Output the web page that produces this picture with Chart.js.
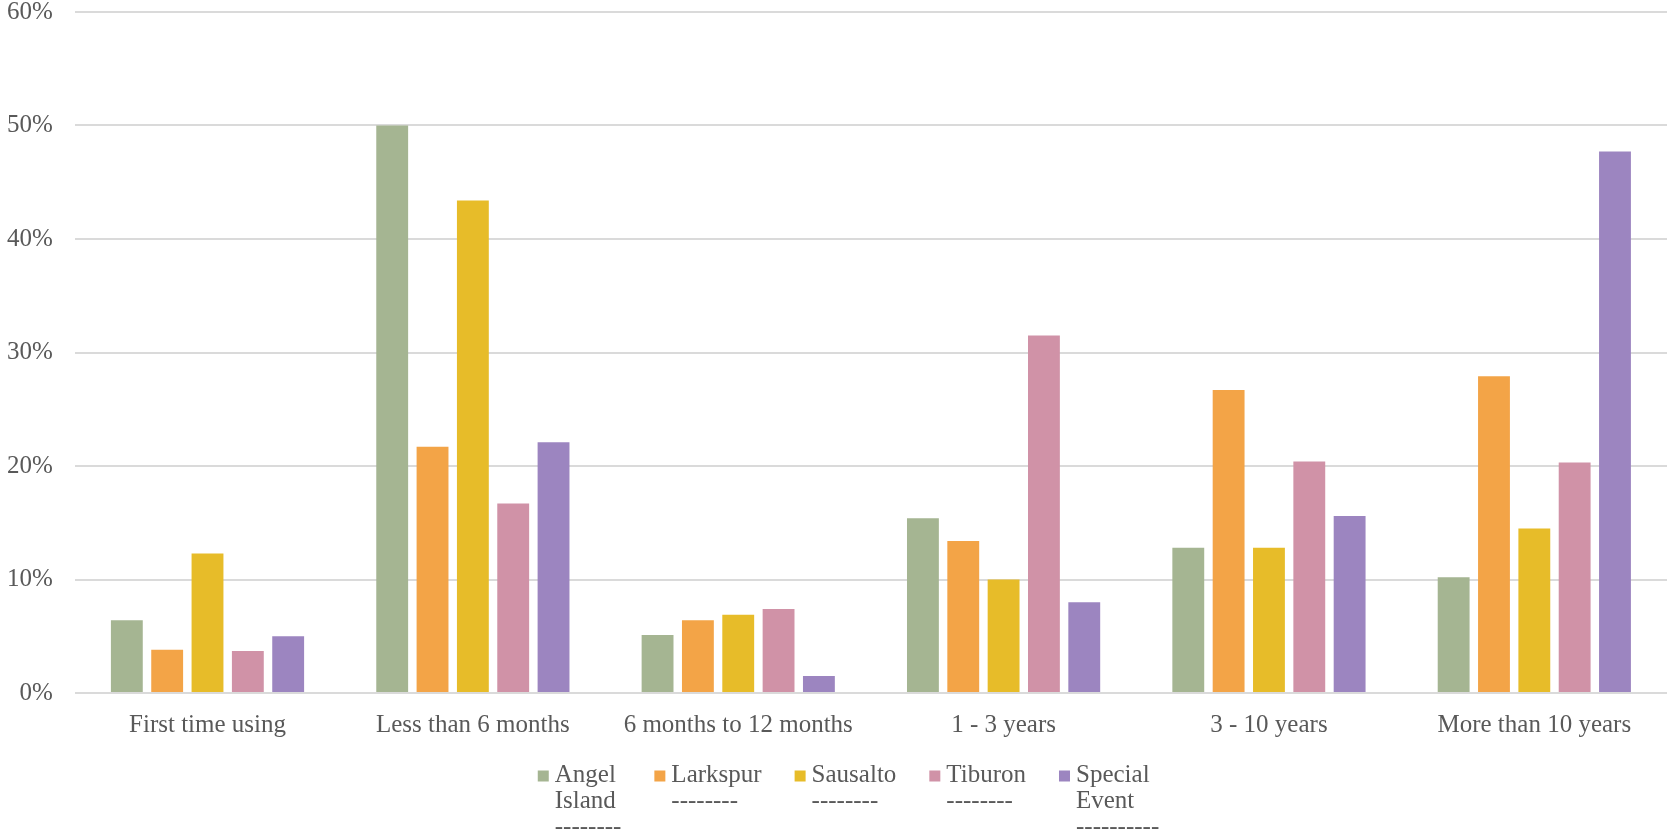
<!DOCTYPE html>
<html>
<head>
<meta charset="utf-8">
<title>Ridership tenure by route</title>
<script src="https://cdn.jsdelivr.net/npm/chart.js@4/dist/chart.umd.min.js"></script>
<style>
    html, body { margin: 0; padding: 0; background: #ffffff; }
    #wrap { width: 1667px; height: 833px; position: relative; }
</style>
</head>
<body>
<div id="wrap"><canvas id="tenure-chart"></canvas></div>
<script>
    const categories = ["First time using", "Less than 6 months", "6 months to 12 months", "1 - 3 years", "3 - 10 years", "More than 10 years"];

    // percent of riders per route
    const angelIsland = [6.4, 50.0, 5.1, 15.4, 12.8, 10.2];
    const larkspur = [3.8, 21.7, 6.4, 13.4, 26.7, 27.9];
    const sausalto = [12.3, 43.4, 6.9, 10.0, 12.8, 14.5];
    const tiburon = [3.7, 16.7, 7.4, 31.5, 20.4, 20.3];
    const specialEvent = [5.0, 22.1, 1.5, 8.0, 15.6, 47.7];

    const yTicks = [0, 10, 20, 30, 40, 50, 60];

    // legend text as it appears, wrapped line by line
    const legendLabels = [
        ["Angel", "Island", "--------"],
        ["Larkspur", "--------"],
        ["Sausalto", "--------"],
        ["Tiburon", "--------"],
        ["Special", "Event", "----------"]
    ];

    const colors = ["#A5B592", "#F3A447", "#E7BC29", "#D092A7", "#9C85C0"];
    const textColor = "#595959";
    const fontFamily = '"Liberation Serif", "Times New Roman", serif';
    const fontSize = 25;

    const seriesValues = [angelIsland, larkspur, sausalto, tiburon, specialEvent];

    const datasets = seriesValues.map((values, i) => ({
        label: legendLabels[i].filter((l) => !l.startsWith("-")).join(" "),
        data: values,
        backgroundColor: colors[i],
        borderWidth: 0,
        categoryPercentage: 0.76,
        barPercentage: 0.79
    }));

    // wrapped legend under the axis, drawn on the chart canvas
    const wrappedLegend = {
        id: "wrappedLegend",
        afterDraw(chart) {
            const ctx = chart.ctx;
            const box = 11;
            const textGap = 6;
            const itemGap = 33;
            const lineHeight = 26;

            ctx.save();
            ctx.font = `${fontSize}px ${fontFamily}`;
            ctx.textBaseline = "middle";
            ctx.textAlign = "left";

            const widths = legendLabels.map((lines) => Math.max(...lines.map((l) => ctx.measureText(l).width)));
            const total = widths.reduce((sum, w) => sum + box + textGap + w, 0) + itemGap * (widths.length - 1);

            let x = chart.width / 2 + 15 - total / 2;
            const top = chart.scales.x.bottom + 18;

            legendLabels.forEach((lines, i) => {
                ctx.fillStyle = colors[i];
                ctx.fillRect(x, top - box / 2 + 1, box, box);
                ctx.fillStyle = textColor;
                lines.forEach((line, j) => {
                    ctx.fillText(line, x + box + textGap, top + j * lineHeight);
                });
                x += box + textGap + widths[i] + itemGap;
            });

            ctx.restore();
        }
    };

    Chart.defaults.font.family = fontFamily;
    Chart.defaults.font.size = fontSize;
    Chart.defaults.color = textColor;

    new Chart(document.getElementById("tenure-chart"), {
        type: "bar",
        data: {
            labels: categories,
            datasets
        },
        options: {
            responsive: true,
            maintainAspectRatio: false,
            animation: false,
            layout: {
                padding: { left: 7, right: 0, top: 0, bottom: 76 }
            },
            plugins: {
                legend: { display: false },
                tooltip: { enabled: false }
            },
            scales: {
                x: {
                    grid: { display: false, drawTicks: false },
                    border: { display: false },
                    ticks: { padding: 17, maxRotation: 0, autoSkip: false }
                },
                y: {
                    min: yTicks[0],
                    max: yTicks[yTicks.length - 1],
                    afterBuildTicks: (axis) => {
                        axis.ticks = yTicks.map((v) => ({ value: v }));
                    },
                    afterFit: (axis) => {
                        // chart.js counts the tick padding twice; keep one
                        axis.width -= 22;
                        axis.paddingTop = 12;
                    },
                    grid: { color: "#dadada", lineWidth: 2, drawTicks: false },
                    border: { display: false },
                    ticks: {
                        padding: 22,
                        callback: (v) => `${v}%`
                    }
                }
            }
        },
        plugins: [wrappedLegend]
    });
</script>
</body>
</html>
